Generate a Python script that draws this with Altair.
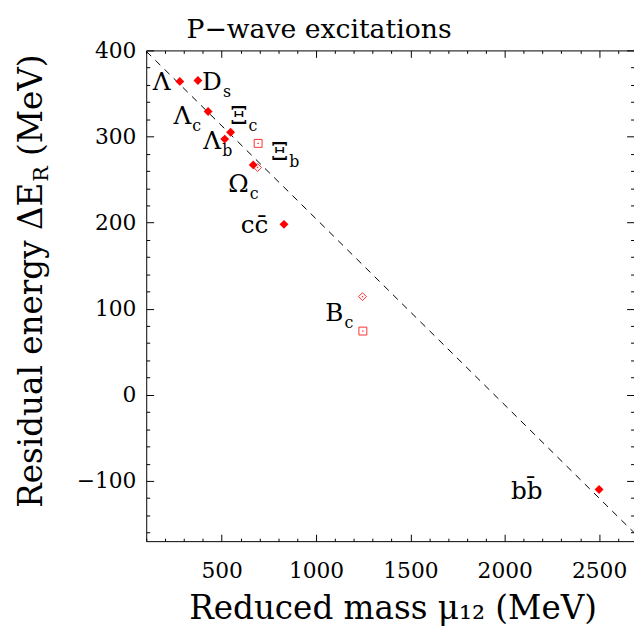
import altair as alt
import pandas as pd

FONT = "DejaVu Serif"
RED = "#ff0000"
OPEN_RED = "#ff3030"

# ---------------- data ----------------
# filled diamonds
filled_names = ["Λ", "Ds", "Λc", "Λb", "Ξc", "Ωc", "cc̄", "bb̄"]
filled_mu = [278, 374, 428, 516, 547, 667, 830, 2500]
filled_dE = [364, 365, 329, 297, 305, 267, 198, -110]

# open squares
square_names = ["Ξb", "Bc"]
square_mu = [693, 1248]
square_dE = [292, 74]

# open diamonds
odiam_names = ["Ωc'", "Bc'"]
odiam_mu = [690, 1246]
odiam_dE = [264, 114]

# dashed reference line (end points)
line_mu = [100, 2685]
line_dE = [399, -160]

# point labels: main glyph, subscript, anchor (baseline, end of main glyph)
label_main = ["Λ", "D", "Λ", "Ξ", "Λ", "Ξ", "Ω", "cc\u0304", "B", "bb\u0304"]
label_sub = ["", "s", "c", "c", "b", "b", "c", "", "c", ""]
label_mu = [229, 501, 339, 637, 497, 853, 643, 747, 1145, 2200]
label_dE = [354, 354, 314, 314, 285, 273, 236, 188, 86, -121]

# axis ticks
x_major = [500, 1000, 1500, 2000, 2500]
x_minor = [100, 200, 300, 400, 600, 700, 800, 900, 1100, 1200, 1300, 1400,
           1600, 1700, 1800, 1900, 2100, 2200, 2300, 2400, 2600]
y_major = [-100, 0, 100, 200, 300, 400]
y_minor = [-160, -140, -120, -80, -60, -40, -20, 20, 40, 60, 80, 120, 140,
           160, 180, 220, 240, 260, 280, 320, 340, 360, 380]

X_DOMAIN = [100, 2685]
Y_DOMAIN = [-170, 400]
W, H = 494, 497

TITLE = "P\u2212wave excitations"
XTITLE = "Reduced mass \u03bc\u2081\u2082 (MeV)"
YTITLE_A = "Residual energy \u0394E"
YTITLE_SUB = "R"
YTITLE_B = "(MeV)"

# ---------------- tables ----------------
filled_df = pd.DataFrame({"name": filled_names, "mu": filled_mu, "dE": filled_dE})
square_df = pd.DataFrame({"name": square_names, "mu": square_mu, "dE": square_dE})
odiam_df = pd.DataFrame({"name": odiam_names, "mu": odiam_mu, "dE": odiam_dE})
open_df = pd.concat([square_df, odiam_df], ignore_index=True)
line_df = pd.DataFrame({"mu": line_mu, "dE": line_dE})
label_df = pd.DataFrame({"main": label_main, "sub": label_sub,
                         "mu": label_mu, "dE": label_dE})

xs = alt.Scale(domain=X_DOMAIN, nice=False, zero=False)
ys = alt.Scale(domain=Y_DOMAIN, nice=False, zero=False)


def ax(orient, values, size, labels=False, domain=False, pad=0):
    kw = dict(orient=orient, values=values, tickSize={"expr": str(-size)},
              tickColor="black", tickWidth=1, domain=domain,
              domainColor="black", domainWidth=1, grid=False, title=None,
              labels=labels)
    if labels:
        kw.update(labelFont=FONT, labelFontSize=22, labelColor="black",
                  labelPadding=pad, labelFlush=False, labelOverlap=False,
                  format="d")
    return alt.Axis(**kw)


def X(axis):
    return alt.X("mu:Q", scale=xs, axis=axis)


def Y(axis):
    return alt.Y("dE:Q", scale=ys, axis=axis)


line = alt.Chart(line_df).mark_line(
    color="black", strokeWidth=1, strokeDash=[7, 6]
).encode(
    x=X(ax("bottom", x_major, 7, labels=True, domain=True, pad=27)),
    y=Y(ax("left", y_major, 7.5, labels=True, domain=True, pad=18)),
)

squares = alt.Chart(square_df).mark_point(
    shape="square", filled=False, color=OPEN_RED, size=64, strokeWidth=1, opacity=1
).encode(
    x=X(ax("top", x_major, 7, domain=True)),
    y=Y(ax("right", y_major, 7.5)),
)

odiams = alt.Chart(odiam_df).mark_point(
    shape="diamond", filled=False, color=OPEN_RED, size=64, strokeWidth=1, opacity=1
).encode(
    x=X(ax("top", x_minor, 3)),
    y=Y(ax("right", y_minor, 3.5)),
)

filled = alt.Chart(filled_df).mark_point(
    shape="diamond", filled=True, color=RED, size=81, opacity=1
).encode(
    x=X(ax("bottom", x_minor, 3)),
    y=Y(ax("left", y_minor, 3.5)),
)

dots = alt.Chart(open_df).mark_point(
    shape="square", filled=True, color=OPEN_RED, size=2, opacity=1
).encode(x=X(None), y=Y(None))

lab_main = alt.Chart(label_df).mark_text(
    font=FONT, fontSize=25, align="right", baseline="alphabetic", color="black"
).encode(x=X(None), y=Y(None), text="main:N")

lab_sub = alt.Chart(label_df).mark_text(
    font=FONT, fontSize=16, align="left", baseline="alphabetic", color="black",
    dx=1, dy=7
).encode(x=X(None), y=Y(None), text="sub:N")

title = alt.Chart(pd.DataFrame({"t": [TITLE]})).mark_text(
    font=FONT, fontSize=27, align="center", baseline="alphabetic", color="black"
).encode(x=alt.value(175), y=alt.value(-13), text="t:N")

xtitle = alt.Chart(pd.DataFrame({"t": [XTITLE]})).mark_text(
    font=FONT, fontSize=33, align="center", baseline="alphabetic", color="black"
).encode(x=alt.value(250), y=alt.value(576), text="t:N")

Y_ANCHOR_X, Y_ANCHOR_Y = -106, 134

ytitle_a = alt.Chart(pd.DataFrame({"t": [YTITLE_A]})).mark_text(
    font=FONT, fontSize=33, align="right", baseline="alphabetic", color="black",
    angle=270
).encode(x=alt.value(Y_ANCHOR_X), y=alt.value(Y_ANCHOR_Y), text="t:N")

ytitle_sub = alt.Chart(pd.DataFrame({"t": [YTITLE_SUB]})).mark_text(
    font=FONT, fontSize=21, align="left", baseline="alphabetic", color="black",
    angle=270, dx=1, dy=7
).encode(x=alt.value(Y_ANCHOR_X), y=alt.value(Y_ANCHOR_Y), text="t:N")

ytitle_b = alt.Chart(pd.DataFrame({"t": [YTITLE_B]})).mark_text(
    font=FONT, fontSize=33, align="left", baseline="alphabetic", color="black",
    angle=270, dx=27
).encode(x=alt.value(Y_ANCHOR_X), y=alt.value(Y_ANCHOR_Y), text="t:N")

chart = alt.layer(
    line, squares, odiams, filled, dots, lab_main, lab_sub,
    title, xtitle, ytitle_a, ytitle_sub, ytitle_b
).resolve_axis(
    x="independent", y="independent"
).properties(
    width=W, height=H,
    autosize=alt.AutoSizeParams(type="none"),
    padding={"left": 140, "top": 39, "right": 0, "bottom": 84},
    background="white",
).configure_view(stroke=None)

chart.save("out.html", embed_options={"renderer": "svg", "actions": False})
